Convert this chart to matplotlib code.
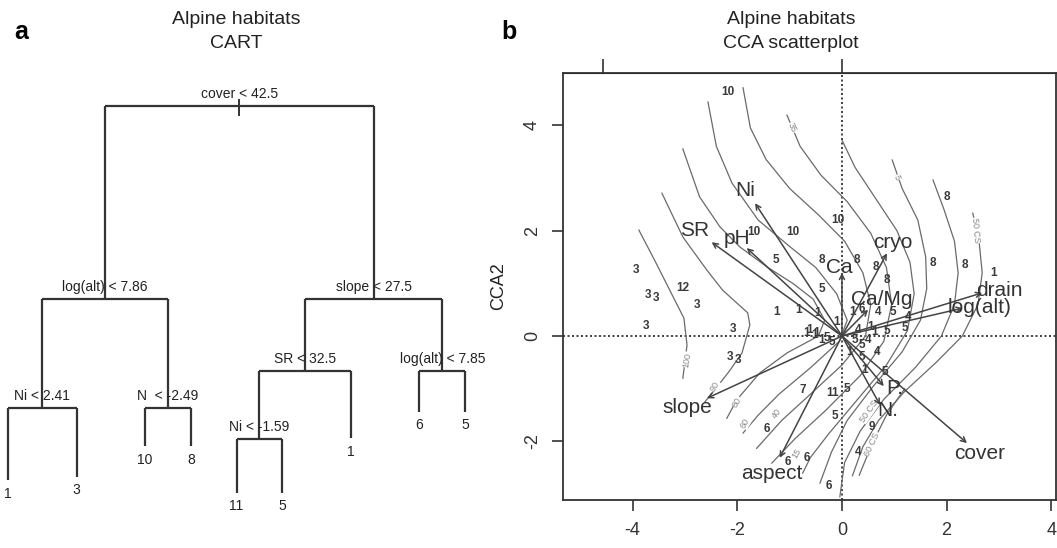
import numpy as np
import matplotlib
matplotlib.use("Agg")
import matplotlib.pyplot as plt

plt.rcParams['font.family'] = ['Liberation Sans', 'DejaVu Sans']
plt.rcParams['axes.unicode_minus'] = False

# ---- CART tree (panel a) ----
# rpart style node ids: children of n are 2n and 2n+1
node_ids = [1, 2, 3, 4, 5, 6, 7, 12]
split_labels = ["cover < 42.5", "log(alt) < 7.86", "slope < 27.5", "Ni < 2.41",
                "N  < -2.49", "SR < 32.5", "log(alt) < 7.85", "Ni < -1.59"]
leaf_ids = [8, 9, 10, 11, 24, 25, 13, 14, 15]
leaf_labels = ["1", "3", "10", "8", "11", "5", "1", "6", "5"]
leaf_x = [0, 1.5, 3, 4, 5, 6, 7.5, 9, 10]
# branch heights (deviance scale)
node_height = {1: 100, 2: 52.2, 3: 52.2, 4: 25.2, 5: 25.2, 6: 34.4, 7: 34.4,
               12: 17.6, 8: 7.4, 9: 8.2, 10: 15.8, 11: 15.8, 13: 17.8,
               24: 4.2, 25: 4.2, 14: 24.3, 15: 24.3}

# ---- CCA biplot (panel b) ----
env_names = ["Ni", "SR", "pH", "Ca", "cryo", "Ca/Mg", "drain", "log(alt)",
             "slope", "aspect", "cover", "P.", "N."]
env_x = [-1.66, -2.49, -1.82, 0.0, 0.86, 0.50, 2.68, 2.31, -2.58, -1.19, 2.39, 0.80, 0.73]
env_y = [2.52, 1.78, 1.67, 1.20, 1.57, 0.50, 0.82, 0.53, -1.18, -2.31, -2.03, -0.95, -1.31]
env_lab_x = [-1.85, -2.81, -2.0, -0.05, 0.98, 0.77, 3.0, 2.63, -2.95, -1.34, 2.64, 1.0, 0.88]
env_lab_y = [2.77, 2.01, 1.86, 1.30, 1.78, 0.70, 0.87, 0.55, -1.35, -2.60, -2.22, -1.0, -1.42]

site_labels = ["10", "10", "10", "10", "5", "8", "8", "8", "8", "8", "8", "8", "1", "5",
               "3", "3", "3", "12", "3", "3", "1", "1", "1", "3", "3", "3", "1", "1", "1",
               "5", "7", "11", "5", "5", "6", "6", "6", "6", "9", "4", "5",
               "1", "1", "6", "4", "5", "4", "5", "4", "1", "1", "5", "5", "4", "5",
               "4", "1", "5", "1", "1", "1", "5"]
site_x = [-2.18, -1.68, -0.94, -0.08, -1.26, -0.38, 0.29, 0.65, 0.86, 1.74, 2.35, 2.0, 2.89, -0.38,
          -3.94, -3.7, -3.55, -3.04, -2.77, -3.75, -1.24, -0.82, -0.46, -2.08, -2.14, -1.99, -0.67, -0.52, -0.38,
          -0.19, -0.75, -0.17, 0.1, -0.13, -1.43, -1.03, -0.67, -0.25, 0.57, 0.31, 0.82,
          -0.1, 0.21, 0.38, 0.69, 0.98, 1.26, 1.2, 0.31, 0.54, 0.63, 0.86, 0.25, 0.5,
          0.38, 0.67, 0.15, 0.38, 0.44, -0.61, -0.48, -0.29]
site_y = [4.63, 1.97, 1.97, 2.2, 1.44, 1.44, 1.44, 1.31, 1.06, 1.39, 1.35, 2.64, 1.2, 0.89,
          1.25, 0.78, 0.72, 0.91, 0.59, 0.2, 0.46, 0.49, 0.44, 0.13, -0.4, -0.46, 0.06, 0.02, -0.08,
          -0.11, -1.02, -1.08, -1.01, -1.52, -1.76, -2.39, -2.31, -2.85, -1.73, -2.2, -0.68,
          0.27, 0.46, 0.51, 0.46, 0.46, 0.36, 0.15, 0.11, 0.17, 0.08, 0.09, -0.08, -0.08,
          -0.17, -0.3, -0.3, -0.4, -0.65, 0.11, 0.06, -0.04]

# fitted surface contours
contour_lines = [
    [(-3.88, 2.01), (-3.58, 1.44), (-3.29, 0.87), (-3.02, 0.34), (-2.96, -0.17), (-3.04, -0.80)],
    [(-3.44, 2.71), (-3.04, 1.88), (-2.58, 1.25), (-2.28, 0.87), (-1.80, 0.44), (-1.76, 0.21),
     (-1.91, -0.32), (-2.14, -0.65), (-2.39, -0.97), (-2.62, -1.25)],
    [(-3.04, 3.55), (-2.72, 2.64), (-2.33, 2.07), (-1.95, 1.69), (-1.43, 1.31), (-0.94, 1.0),
     (-0.55, 0.7), (-0.33, 0.3), (-0.45, 0.0), (-1.05, -0.32), (-1.57, -0.70), (-2.01, -1.21), (-2.2, -1.56)],
    [(-2.56, 4.44), (-2.4, 3.6), (-2.1, 2.9), (-1.6, 2.2), (-1.0, 1.7), (-0.5, 1.3), (-0.1, 0.8),
     (0.1, 0.3), (-0.05, -0.1), (-0.6, -0.6), (-1.2, -1.1), (-1.6, -1.5), (-1.89, -1.84)],
    [(-1.89, 4.71), (-1.75, 3.95), (-1.45, 3.35), (-1.0, 2.8), (-0.45, 2.3), (0.05, 1.8), (0.4, 1.2),
     (0.55, 0.6), (0.45, 0.0), (0.0, -0.55), (-0.6, -1.1), (-1.15, -1.6), (-1.63, -2.13)],
    [(-1.05, 4.19), (-0.8, 3.6), (-0.4, 3.05), (0.1, 2.55), (0.55, 1.95), (0.85, 1.3), (0.95, 0.6),
     (0.8, -0.1), (0.35, -0.75), (-0.3, -1.4), (-0.9, -1.95), (-1.34, -2.41)],
    [(0.0, 3.72), (0.25, 3.2), (0.65, 2.6), (1.05, 2.0), (1.3, 1.4), (1.38, 0.8), (1.25, 0.1),
     (0.85, -0.55), (0.3, -1.2), (-0.25, -1.85), (-0.6, -2.3), (-0.75, -2.6)],
    [(0.96, 3.34), (1.15, 2.8), (1.45, 2.2), (1.6, 1.5), (1.62, 0.9), (1.5, 0.3), (1.15, -0.3),
     (0.6, -0.95), (0.1, -1.6), (-0.2, -2.2), (-0.42, -2.79)],
    [(1.74, 2.96), (1.95, 2.4), (2.15, 1.8), (2.22, 1.2), (2.15, 0.6), (1.9, 0.0), (1.4, -0.6),
     (0.8, -1.2), (0.35, -1.8), (0.05, -2.4), (-0.04, -3.05)],
    [(2.5, 2.33), (2.62, 1.8), (2.68, 1.2), (2.6, 0.6), (2.3, 0.0), (1.8, -0.5), (1.2, -1.05),
     (0.7, -1.6), (0.4, -2.1), (0.2, -2.65)],
    [(1.2, -1.0), (0.85, -1.5), (0.6, -2.0), (0.45, -2.35), (0.33, -2.64)],
]
contour_labels = ["100", "90", "80", "60", "40", "15", "35", "5", "50 CS", "50 CS", "60 CS"]
contour_lab_x = [-2.95, -2.42, -2.0, -1.85, -1.25, -0.86, -0.95, 1.05, 2.55, 0.52, 0.58]
contour_lab_y = [-0.45, -0.95, -1.25, -1.65, -1.46, -2.22, 3.95, 3.0, 2.0, -1.42, -2.05]
contour_lab_rot = [80, 60, 60, 60, 55, 60, -65, -70, -85, 55, 65]

top_ticks = [-4.57, 0]

W, H = 1057, 548
fig = plt.figure(figsize=(W / 100, H / 100), dpi=100)
fig.patch.set_facecolor('white')

# ---------- panel a ----------
axa = fig.add_axes([0, 0, 520 / W, 1])
axa.set_xlim(-0.175, 11.2)
axa.set_ylim(-9.41, 126.2)
axa.axis('off')

node_x = {}
for lid, lx in zip(leaf_ids, leaf_x):
    node_x[lid] = lx
for nid in sorted(node_ids, reverse=True):
    node_x[nid] = (node_x[2 * nid] + node_x[2 * nid + 1]) / 2

lc = '#333333'
for nid, lab in zip(node_ids, split_labels):
    h = node_height[nid]
    l, r = 2 * nid, 2 * nid + 1
    axa.plot([node_x[l], node_x[r]], [h, h], color=lc, lw=1.6, solid_capstyle='butt')
    for c in (l, r):
        axa.plot([node_x[c], node_x[c]], [h, node_height[c]], color=lc, lw=1.6, solid_capstyle='butt')
    axa.text(node_x[nid], h + 1.2, lab, ha='center', va='bottom', fontsize=10, color='#222222')
# root stem
axa.plot([node_x[1], node_x[1]], [node_height[1] + 1.5, node_height[1] - 2.2], color=lc, lw=1.4)
for lid, lab in zip(leaf_ids, leaf_labels):
    axa.text(node_x[lid], node_height[lid] - 1.6, lab, ha='center', va='top', fontsize=10, color='#222222')

fig.text(21 / W, 1 - 32 / H, 'a', fontsize=18, fontweight='bold', ha='center', va='center')
fig.text(236 / W, 1 - 20 / H, 'Alpine habitats', fontsize=14, ha='center', va='center', color='#222222')
fig.text(236 / W, 1 - 43 / H, 'CART', fontsize=14, ha='center', va='center', color='#222222')

# ---------- panel b ----------
axb = fig.add_axes([563 / W, (H - 500) / H, (1056 - 563) / W, (500 - 73) / H])
axb.set_xlim(-5.33, 4.09)
axb.set_ylim(-3.11, 4.99)
for s in axb.spines.values():
    s.set_color('#333333')
    s.set_linewidth(1.3)
axb.set_xticks([-4, -2, 0, 2, 4])
axb.set_xticklabels(['-4', '-2', '0', '2', '4'])
axb.set_yticks([-2, 0, 2, 4])
axb.tick_params(direction='out', length=8, width=1.2, labelsize=13, colors='#333333', pad=8)
axb.set_yticklabels(['-2', '0', '2', '4'], rotation=90, va='center')
axb.set_ylabel('CCA2', fontsize=13, color='#222222', labelpad=12)
sec = axb.secondary_xaxis('top')
sec.set_xticks(top_ticks)
sec.set_xticklabels(['', ''])
sec.tick_params(direction='out', length=10, width=1.2, colors='#333333')

axb.axhline(0, color='#222222', lw=1.2, ls=(0, (1.2, 1.5)))
axb.axvline(0, color='#222222', lw=1.2, ls=(0, (1.2, 1.5)))

for line in contour_lines:
    xs = [p[0] for p in line]
    ys = [p[1] for p in line]
    axb.plot(xs, ys, color='#6a6a6a', lw=0.9)
for t, x, y, r in zip(contour_labels, contour_lab_x, contour_lab_y, contour_lab_rot):
    axb.text(x, y, t, fontsize=6.5, color='#888888', rotation=r, ha='center', va='center',
             bbox=dict(facecolor='white', edgecolor='none', pad=0.3))

for t, x, y in zip(site_labels, site_x, site_y):
    axb.text(x, y, t, fontsize=8.5, fontweight='bold', color='#3a3a3a', ha='center', va='center')

for name, x, y, lx, ly in zip(env_names, env_x, env_y, env_lab_x, env_lab_y):
    axb.annotate('', xy=(x, y), xytext=(0, 0),
                 arrowprops=dict(arrowstyle='->', color='#444444', lw=1.1,
                                 shrinkA=0, shrinkB=0, mutation_scale=9))
    axb.text(lx, ly, name, fontsize=15, color='#333333', ha='center', va='center')

fig.text(509 / W, 1 - 32 / H, 'b', fontsize=18, fontweight='bold', ha='center', va='center')
fig.text(791 / W, 1 - 20 / H, 'Alpine habitats', fontsize=14, ha='center', va='center', color='#222222')
fig.text(791 / W, 1 - 43 / H, 'CCA scatterplot', fontsize=14, ha='center', va='center', color='#222222')

fig.savefig('out.png', dpi=100)
